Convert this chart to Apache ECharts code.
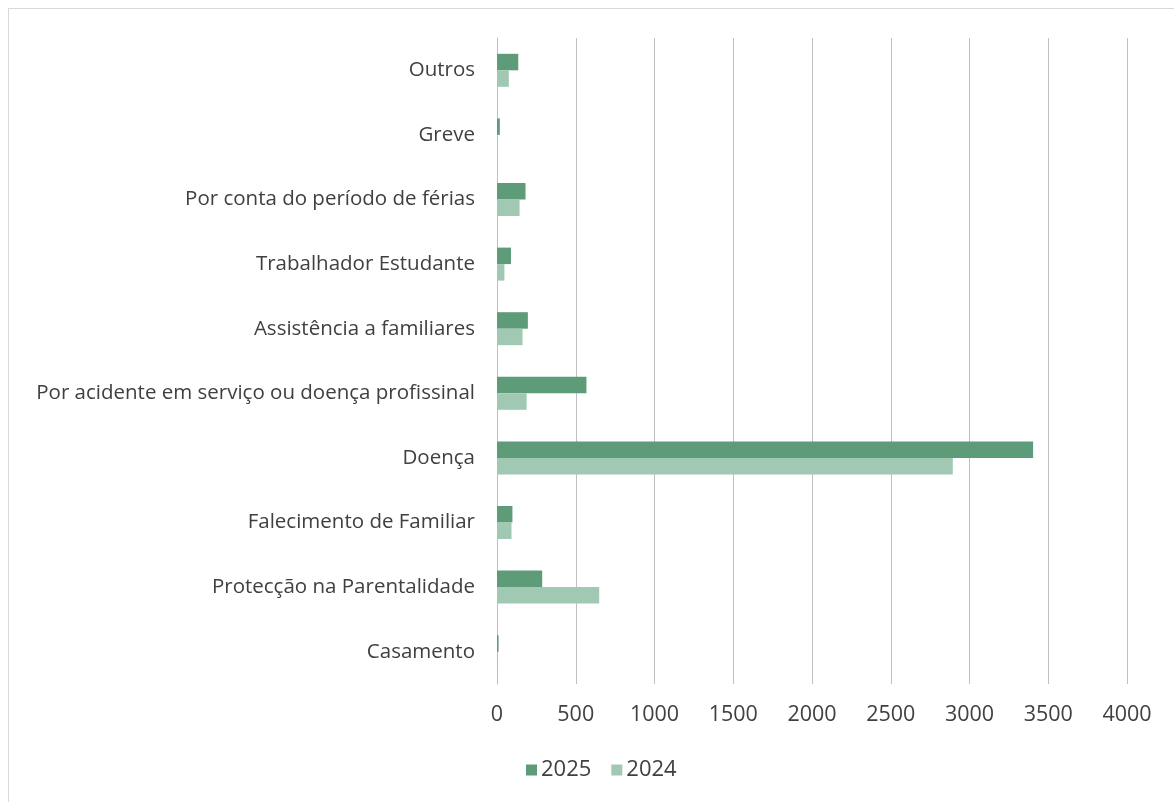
<!DOCTYPE html>
<html><head><meta charset="utf-8">
<script src="https://cdn.jsdelivr.net/npm/echarts@6/dist/echarts.min.js"></script>
<style>
html,body{margin:0;padding:0;background:#fff;}
#frame{position:absolute;left:8px;top:8px;width:1180px;height:800px;border:1px solid #d9d9d9;box-sizing:border-box;}
#c{position:absolute;left:0;top:0;width:1174px;height:802px;}
</style></head>
<body>
<div id="frame"></div>
<div id="c"></div>
<script>
const categories = ["Outros","Greve","Por conta do período de férias","Trabalhador Estudante","Assistência a familiares","Por acidente em serviço ou doença profissinal","Doença","Falecimento de Familiar","Protecção na Parentalidade","Casamento"];
const values2025 = [135, 18, 181, 89, 196, 568, 3404, 98, 287, 10];
const values2024 = [75, 0, 143, 47, 162, 188, 2894, 92, 649, 5];
const seriesNames = ["2025","2024"];
const xTicks = {min:0, max:4000, interval:500};

const chart = echarts.init(document.getElementById('c'), null, {renderer:'canvas'});
const font = 'Open Sans';
chart.setOption({
  animation:false,
  textStyle:{fontFamily:font},
  grid:{left:497, right:47, top:38, bottom:118, containLabel:false},
  legend:{bottom:16, left:521, itemWidth:11, itemHeight:11, itemGap:20, icon:'rect',
    textStyle:{fontSize:22, color:'#404040', fontFamily:font, padding:[0,0,0,-1]}, data:seriesNames},
  xAxis:{type:'value', min:xTicks.min, max:xTicks.max, interval:xTicks.interval,
    axisLine:{show:false}, axisTick:{show:false},
    axisLabel:{fontSize:21.5, color:'#404040', margin:20, fontFamily:font, formatter:v=>String(v)},
    splitLine:{show:true, lineStyle:{color:'#bfbfbf', width:1}}},
  yAxis:{type:'category', inverse:true, data:categories,
    axisLine:{show:true, lineStyle:{color:'#bfbfbf'}}, axisTick:{show:false},
    axisLabel:{fontSize:20.5, color:'#404040', margin:22, fontFamily:font}},
  series:[
    {name:seriesNames[0], type:'bar', data:values2025, barWidth:16.5, barGap:'0%', itemStyle:{color:'#5e9b78'}},
    {name:seriesNames[1], type:'bar', data:values2024, barWidth:16.5, barGap:'0%', itemStyle:{color:'#a0c8b3'}}
  ]
});
</script>
</body></html>
